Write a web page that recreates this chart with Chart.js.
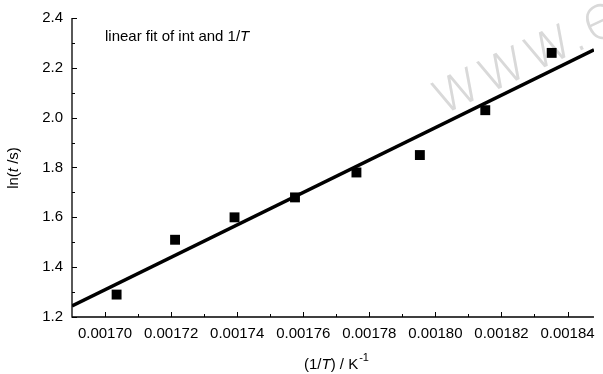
<!DOCTYPE html>
<html>
<head>
<meta charset="utf-8">
<script src="https://cdn.jsdelivr.net/npm/chart.js@4/dist/chart.umd.min.js"></script>
<style>
  html, body { margin: 0; padding: 0; background: #fff; }
  #wrap { width: 603px; height: 374px; }
</style>
</head>
<body>
<div id="wrap"><canvas id="fitChart"></canvas></div>
<script>
// Messpunkte: 1/T in K^-1 und ln(t/s)
var invT = [0.0017035, 0.0017212, 0.0017392, 0.0017575, 0.0017761, 0.0017953, 0.0018151, 0.0018352];
var lnT = [1.29, 1.51, 1.60, 1.68, 1.78, 1.85, 2.03, 2.26];

// Ausgleichsgerade (Endpunkte am Achsenrand)
var fitX = [0.00169, 0.001848];
var fitY = [1.244, 2.272];

// Achsenbeschriftungen
var xTicks = [0.00170, 0.00172, 0.00174, 0.00176, 0.00178, 0.00180, 0.00182, 0.00184];
var yTicks = [1.2, 1.4, 1.6, 1.8, 2.0, 2.2, 2.4];

var FONT = '"Liberation Sans", Arial, sans-serif';

// Striche nach innen, Titel und Beschriftung selbst zeichnen
var decorPlugin = {
    id: 'decor',
    beforeDatasetsDraw: function (chart) {
        // Wasserzeichen hinter den Daten
        var c = chart.ctx;
        c.save();
        c.translate(441, 116);
        c.rotate(-0.44);
        c.font = '200 62px "DejaVu Sans", sans-serif';
        c.fillStyle = '#d9d9d9';
        c.fillText('www.e', 0, 0);
        c.restore();
    },
    afterDraw: function (chart) {
        var c = chart.ctx;
        var xs = chart.scales.x, ys = chart.scales.y, a = chart.chartArea;
        c.save();
        c.strokeStyle = '#000';
        c.lineWidth = 1.3;
        c.beginPath();
        c.moveTo(a.left, a.top);
        c.lineTo(a.left, a.bottom);
        c.lineTo(a.right, a.bottom);
        c.stroke();

        c.lineWidth = 1;
        c.beginPath();
        yTicks.forEach(function (v, i) {
            var p = Math.round(ys.getPixelForValue(v)) + 0.5;
            c.moveTo(a.left, p); c.lineTo(a.left + 5, p);
            if (i < yTicks.length - 1) {
                var m = Math.round(ys.getPixelForValue((v + yTicks[i + 1]) / 2)) + 0.5;
                c.moveTo(a.left, m); c.lineTo(a.left + 3, m);
            }
        });
        var step = xTicks[1] - xTicks[0];
        xTicks.forEach(function (v) {
            var p = Math.round(xs.getPixelForValue(v)) + 0.5;
            c.moveTo(p, a.bottom); c.lineTo(p, a.bottom - 5);
        });
        [xTicks[0] - step / 2].concat(xTicks.map(function (v) { return v + step / 2; })).forEach(function (v) {
            if (v < xs.min || v > xs.max) return;
            var p = Math.round(xs.getPixelForValue(v)) + 0.5;
            c.moveTo(p, a.bottom); c.lineTo(p, a.bottom - 3);
        });
        c.stroke();

        c.fillStyle = '#000';
        c.textBaseline = 'alphabetic';

        // Annotation
        drawParts(c, 105, 41, [
            ['linear fit of int and 1/', '15px ' + FONT],
            ['T', 'italic 15px ' + FONT]
        ]);

        // x-Titel
        var xParts = [
            ['(1/', '15px ' + FONT],
            ['T', 'italic 15px ' + FONT],
            [') / K', '15px ' + FONT]
        ];
        var w = measureParts(c, xParts);
        c.font = '11px ' + FONT;
        var sw = c.measureText('-1').width;
        var x0 = 336 - (w + sw) / 2;
        drawParts(c, x0, 369, xParts);
        c.font = '11px ' + FONT;
        c.fillText('-1', x0 + w + 1, 361);

        // y-Titel
        c.save();
        c.translate(18, 168);
        c.rotate(-Math.PI / 2);
        var yParts = [
            ['ln(', '15px ' + FONT],
            ['t', 'italic 15px ' + FONT],
            [' /s)', '15px ' + FONT]
        ];
        drawParts(c, -measureParts(c, yParts) / 2, 0, yParts);
        c.restore();

        c.restore();
    }
};

function measureParts(c, parts) {
    var w = 0;
    parts.forEach(function (p) { c.font = p[1]; w += c.measureText(p[0]).width; });
    return w;
}

function drawParts(c, x, y, parts) {
    parts.forEach(function (p) {
        c.font = p[1];
        c.fillText(p[0], x, y);
        x += c.measureText(p[0]).width;
    });
}

var ctx = document.getElementById('fitChart').getContext('2d');

var myChart = new Chart(ctx, {
    type: 'scatter',
    data: {
        datasets: [{
            label: 'Messwerte',
            data: invT.map(function (x, i) { return { x: x, y: lnT[i] }; }),
            pointStyle: 'rect',
            radius: 7,
            backgroundColor: '#000',
            borderWidth: 0,
            order: 1
        }, {
            type: 'line',
            label: 'linear fit',
            data: fitX.map(function (x, i) { return { x: x, y: fitY[i] }; }),
            borderColor: '#000',
            borderWidth: 3.5,
            pointRadius: 0,
            fill: false,
            order: 2
        }]
    },
    options: {
        responsive: true,
        maintainAspectRatio: false,
        animation: false,
        layout: { padding: { top: 17, right: 6, left: 0, bottom: 0 } },
        plugins: {
            legend: { display: false },
            tooltip: { enabled: false }
        },
        scales: {
            x: {
                type: 'linear',
                min: 0.00169,
                max: 0.001848,
                grid: { display: false, drawTicks: false },
                border: { display: false },
                afterBuildTicks: function (s) { s.ticks = xTicks.map(function (v) { return { value: v }; }); },
                afterFit: function (s) { s.height = 57; },
                ticks: {
                    padding: 8,
                    color: '#000',
                    font: { family: FONT, size: 15 },
                    maxRotation: 0,
                    callback: function (v) { return Number(v).toFixed(5); }
                }
            },
            y: {
                min: 1.2,
                max: 2.4,
                grid: { display: false, drawTicks: false },
                border: { display: false },
                afterBuildTicks: function (s) { s.ticks = yTicks.map(function (v) { return { value: v }; }); },
                afterFit: function (s) { s.width = 72; },
                ticks: {
                    padding: 9,
                    color: '#000',
                    font: { family: FONT, size: 15 },
                    callback: function (v) { return Number(v).toFixed(1); }
                }
            }
        }
    },
    plugins: [decorPlugin]
});
</script>
</body>
</html>
